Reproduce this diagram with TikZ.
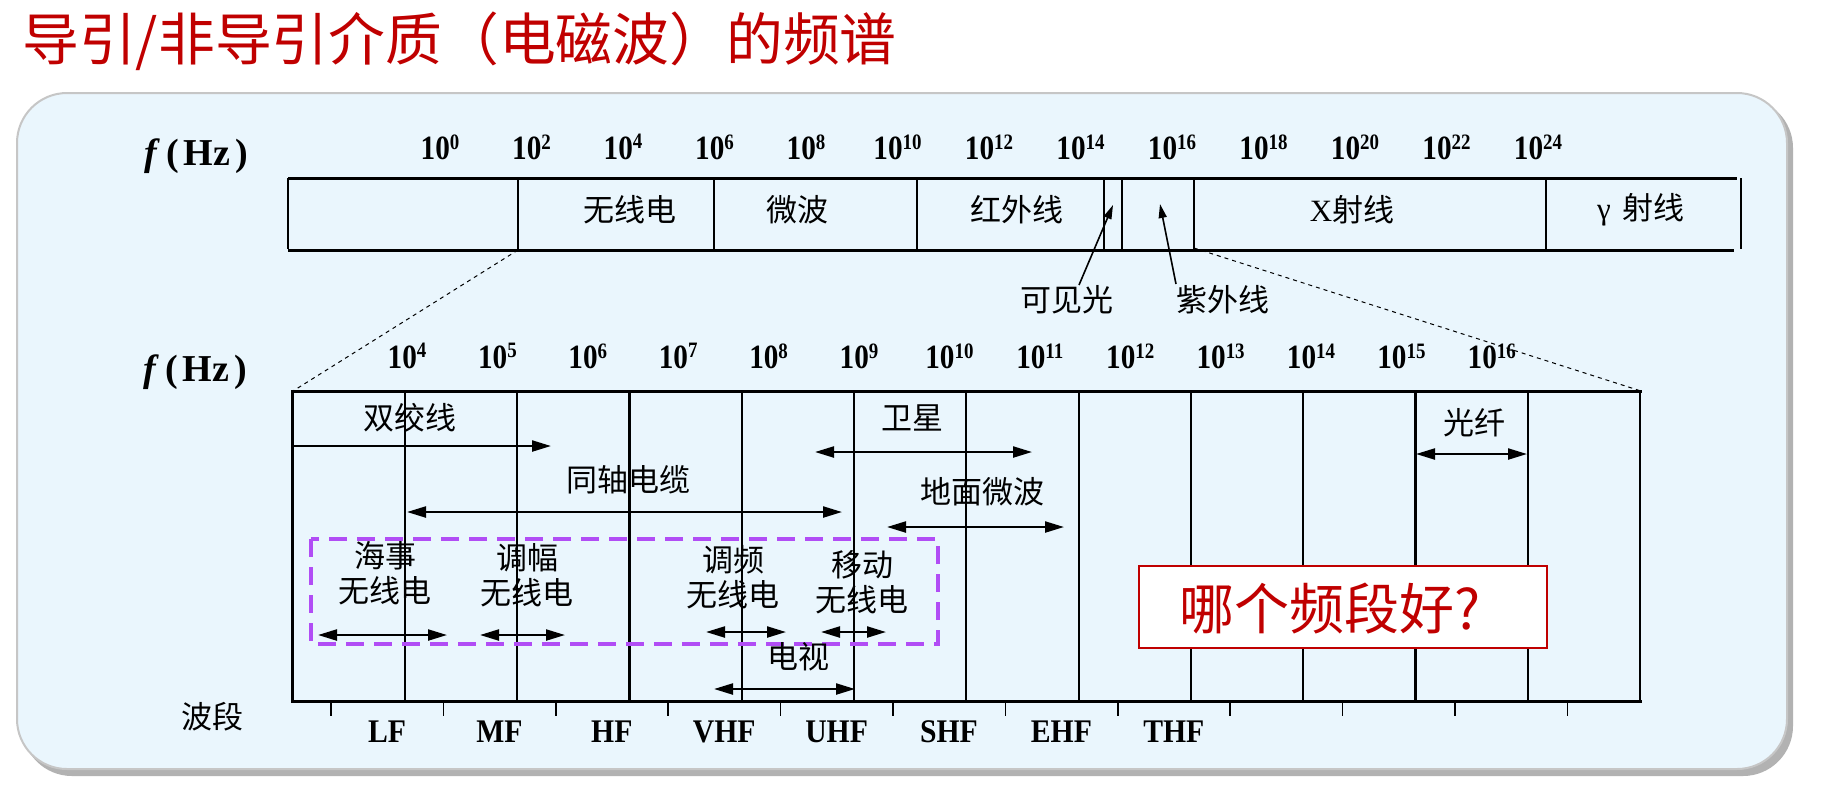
\documentclass[tikz,border=0pt]{standalone}
\usepackage{fontspec}
\setmainfont{Liberation Serif}
\newfontfamily\cjk{Noto Sans CJK SC}
\usetikzlibrary{arrows.meta}
\definecolor{titlered}{RGB}{192,0,0}
\definecolor{panelbg}{RGB}{234,246,253}
\definecolor{boxpurple}{RGB}{177,77,245}
\newcommand\pw[1]{\scalebox{0.86}[1]{10\raisebox{0.3em}{\fontsize{11}{11}\selectfont #1}}}
\begin{document}
\begin{tikzpicture}[x=0.5pt,y=-0.5pt,
  cjklab/.style={font=\cjk\fontsize{15.5}{17.5}\selectfont, inner sep=0pt, align=center},
  explab/.style={font=\bfseries\fontsize{17}{17}\selectfont, inner sep=0pt},
  bandlab/.style={font=\bfseries\fontsize{16.5}{16.5}\selectfont, inner sep=0pt},
  fhz/.style={font=\bfseries\fontsize{19}{19}\selectfont, inner sep=0pt},
  frameline/.style={line width=1.5pt},
  divider/.style={line width=0.6pt},
  gridline/.style={line width=1.1pt},
  tickline/.style={line width=0.8pt},
  dbl/.style={line width=1.1pt, {Triangle[length=9.5pt,width=5.5pt]}-{Triangle[length=9.5pt,width=5.5pt]}},
  sgl/.style={line width=1.1pt, -{Triangle[length=9.5pt,width=5.5pt]}},
  pointer/.style={line width=0.8pt, -{Triangle[length=7pt,width=4pt]}},
  zoomline/.style={line width=0.5pt, dash pattern=on 2pt off 2pt}]
\useasboundingbox (0,0) rectangle (1821,789);
\fill[white] (0,0) rectangle (1821,789);
% panel
\fill[gray!60, rounded corners=25pt] (22,98) rectangle (1793,776);
\filldraw[fill=panelbg, draw=gray!45, line width=1pt, rounded corners=25pt] (17,93) rectangle (1787,769);
% title
\node[anchor=west, font=\cjk\fontsize{28.4}{28.4}\selectfont, text=titlered, inner sep=0pt] (title) at (22,41) {导引/非导引介质（电磁波）的频谱};

% ---------- upper spectrum ----------
\node[fhz] (fhzA) at (196,156) {\textit{f}\hspace{3pt}(\hspace{2.5pt}Hz\hspace{2.5pt})};
\foreach \e [count=\i from 0] in {0,2,...,24}
  \node[explab] (uf\e) at ({440+\i*91.5},147) {\pw{\e}};
\draw[frameline] (288,178) -- (1737,178);
\draw[frameline] (288,250) -- (1734,250);
\foreach \xx in {288,518,714,917,1104,1122,1194,1546,1741}
  \draw[divider] (\xx,178) -- (\xx,249);
\node[cjklab] (radio) at (630,210) {无线电};
\node[cjklab] (micro) at (797,210) {微波};
\node[cjklab] (ir) at (1017,210) {红外线};
\node[cjklab] (xray) at (1352,210) {{\rmfamily X}射线};
\node[cjklab] (gamma) at (1641,210) {{\rmfamily γ}\hspace{6pt}射线};
\node[cjklab] (visible) at (1067,300) {可见光};
\node[cjklab] (uv) at (1223,300) {紫外线};
\coordinate (visTail) at (1079,285);
\coordinate (visTip) at (1113,205);
\coordinate (uvTail) at (1176,284);
\coordinate (uvTip) at (1160,204);
\draw[pointer] (visTail) -- (visTip);
\draw[pointer] (uvTail) -- (uvTip);
% zoom lines
\coordinate (zA1) at (518,250);
\coordinate (zA2) at (293,391);
\coordinate (zB1) at (1194,248);
\coordinate (zB2) at (1641,391);
\draw[zoomline] (zA1) -- (zA2);
\draw[zoomline] (zB1) -- (zB2);

% ---------- lower spectrum ----------
\node[fhz] (fhzB) at (195,372) {\textit{f}\hspace{3pt}(\hspace{2.5pt}Hz\hspace{2.5pt})};
\foreach \e [count=\i from 0] in {4,...,16}
  \node[explab] (lf\e) at ({407+\i*90.4},356) {\pw{\e}};
\foreach \k in {0,...,12}
  \draw[gridline] ({292.5+\k*112.3},391) -- ({292.5+\k*112.3},701);
\draw[frameline] (291,391) -- (1642,391);
\draw[frameline] (291,701) -- (1642,701);
\foreach \k in {0,...,11}
  \draw[tickline] ({331+\k*112.4},701) -- ({331+\k*112.4},716);
\foreach \b [count=\i from 0] in {LF,MF,HF,VHF,UHF,SHF,EHF,THF}
  \node[bandlab] (band\b) at ({387+\i*112.4},732) {\scalebox{0.9}[1]{\b}};
\node[cjklab] (bandname) at (212,717) {波段};

% media labels and arrows
\node[cjklab] (twisted) at (410,418) {双绞线};
\coordinate (twA) at (292,446); \coordinate (twB) at (551,446);
\draw[sgl] (twA) -- (twB);
\node[cjklab] (coax) at (628,480) {同轴电缆};
\coordinate (cxA) at (407,512); \coordinate (cxB) at (842,512);
\draw[dbl] (cxA) -- (cxB);
\node[cjklab] (sat) at (912,418) {卫星};
\coordinate (stA) at (815,452); \coordinate (stB) at (1032,452);
\draw[dbl] (stA) -- (stB);
\node[cjklab] (terr) at (982,492) {地面微波};
\coordinate (trA) at (887,527); \coordinate (trB) at (1064,527);
\draw[dbl] (trA) -- (trB);
\node[cjklab] (fiber) at (1474,423) {光纤};
\coordinate (fbA) at (1416,454); \coordinate (fbB) at (1527,454);
\draw[dbl] (fbA) -- (fbB);

% purple dashed group
\draw[boxpurple, line width=2pt, dash pattern=on 9pt off 5pt] (311,539) rectangle (938,644);
\node[cjklab] (maritime) at (385,573) {海事\\无线电};
\node[cjklab] (am) at (527,575) {调幅\\无线电};
\node[cjklab] (fm) at (733,577) {调频\\无线电};
\node[cjklab] (mobile) at (862,582) {移动\\无线电};
\node[cjklab] (tv) at (798,657) {电视};
\coordinate (mrA) at (318,635); \coordinate (mrB) at (447,635);
\draw[dbl] (mrA) -- (mrB);
\coordinate (amA) at (480,635); \coordinate (amB) at (565,635);
\draw[dbl] (amA) -- (amB);
\coordinate (fmA) at (706,632); \coordinate (fmB) at (786,632);
\draw[dbl] (fmA) -- (fmB);
\coordinate (mbA) at (821,632); \coordinate (mbB) at (886,632);
\draw[dbl] (mbA) -- (mbB);
\coordinate (tvA) at (714,689); \coordinate (tvB) at (855,689);
\draw[dbl] (tvA) -- (tvB);

% question box
\node[draw=titlered, line width=1pt, fill=white, minimum width=204pt, minimum height=41pt, inner sep=0pt] (qbox) at (1343,607) {};
\node[font=\cjk\fontsize{27.5}{27.5}\selectfont, text=titlered, inner sep=0pt] (qtext) at (1330,609) {哪个频段好?};
\end{tikzpicture}
\end{document}
